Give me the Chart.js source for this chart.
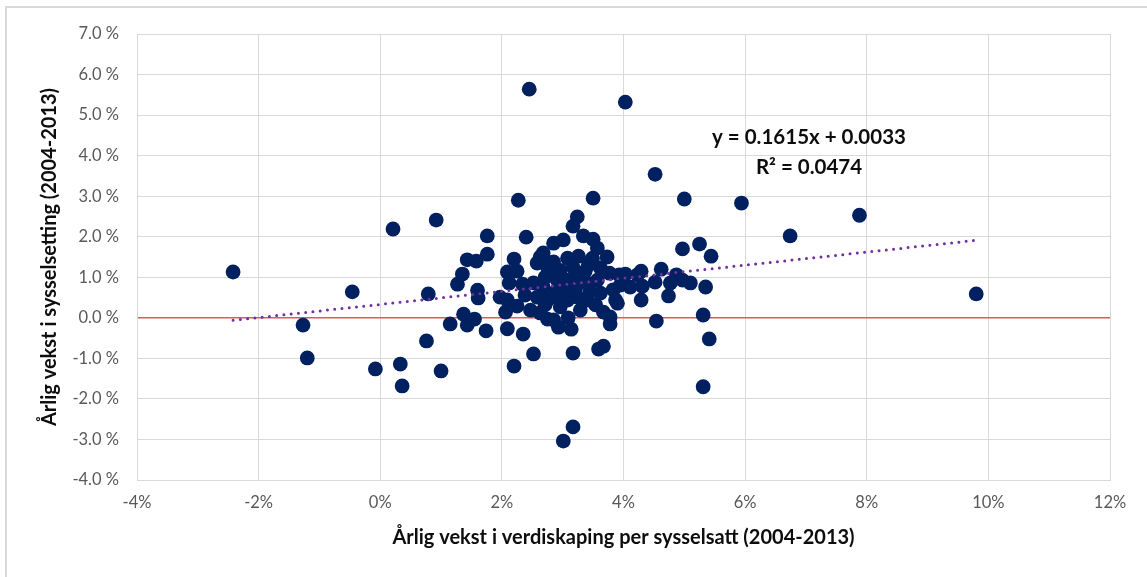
<!DOCTYPE html>
<html>
<head>
<meta charset="utf-8">
<script src="https://cdn.jsdelivr.net/npm/chart.js@4.4.1/dist/chart.umd.min.js"></script>
<style>
  html, body { margin: 0; padding: 0; background: #fff; overflow: hidden; }
  #wrap { position: relative; width: 1147px; height: 577px; }
  #frame { position: absolute; left: 5px; top: 6px; width: 1170px; height: 620px; border: 2px solid #d9d9d9; box-sizing: border-box; }
  #chart { position: absolute; left: 0; top: 0; }
</style>
</head>
<body>
<div id="wrap">
  <div id="frame"></div>
  <canvas id="chart" width="1147" height="577"></canvas>
</div>
<script>
// annual growth in value added per employee (%), one entry per region
const xGrowth = [
  -2.42, -1.27, -1.20, -0.46, -0.08, 0.21, 0.33, 0.36, 0.79, 0.76, 0.92, 1.00,
  2.45, 4.03, 4.52, 3.50, 5.00, 5.94, 6.74, 7.88, 9.80, 2.27,
  1.27, 1.35, 1.43, 1.58, 1.60, 1.61, 1.76, 1.76, 2.20, 2.09, 2.25, 2.12, 2.34, 2.40,
  2.58, 2.68, 2.85, 3.01, 2.75, 2.85, 3.08, 3.26, 3.17, 3.37, 3.17, 3.24, 3.34, 3.50,
  3.49, 3.57, 3.73, 3.77, 3.93, 4.03, 4.29, 4.62, 4.87, 4.97, 5.10, 5.35, 4.31, 4.52,
  4.74, 4.29, 4.97, 5.25, 5.44, 2.52, 2.68, 2.91, 3.08, 3.24, 3.40, 3.57, 3.83, 4.11,
  3.95, 4.23, 1.97, 2.09, 2.25, 2.06, 2.58, 2.75, 2.91, 3.08, 3.24, 3.40, 2.47, 2.63,
  2.75, 3.54, 3.67, 3.78, 3.78, 3.09, 3.14, 2.93, 2.35, 2.09, 1.74, 1.15, 1.43, 1.55,
  1.37, 2.52, 2.20, 3.17, 3.59, 3.67, 3.01, 3.17, 3.90, 4.54, 5.31, 5.41, 5.31,
  2.80, 2.96, 2.71, 3.04, 3.21, 2.88, 2.38, 3.45, 3.62, 3.87, 3.42, 3.62, 2.71, 2.96,
  3.29, 2.85, 4.77, 2.63
];
// annual growth in employment (%), same order as xGrowth
const yGrowth = [
  1.13, -0.18, -0.99, 0.64, -1.26, 2.19, -1.14, -1.68, 0.59, -0.57, 2.41, -1.31,
  5.64, 5.32, 3.54, 2.95, 2.93, 2.83, 2.02, 2.53, 0.59, 2.90,
  0.83, 1.08, 1.43, 1.40, 0.68, 0.49, 2.02, 1.57, 1.45, 1.13, 1.15, 0.86, 0.83, 1.99,
  1.35, 1.60, 1.84, 1.92, 1.25, 1.38, 1.47, 1.52, 1.25, 1.15, 2.26, 2.49, 2.02, 1.94,
  1.47, 1.72, 1.50, 1.10, 1.06, 1.08, 1.15, 1.20, 1.06, 0.93, 0.86, 0.76, 0.78, 0.88,
  0.54, 0.44, 1.70, 1.82, 1.52, 0.86, 0.76, 0.93, 0.93, 1.01, 0.86, 0.93, 0.69, 0.76,
  0.81, 1.06, 0.51, 0.44, 0.29, 0.14, 0.51, 0.44, 0.51, 0.44, 0.51, 0.44, 0.19, 0.12,
  -0.03, 0.32, 0.14, 0.02, -0.15, 0.00, -0.28, -0.23, -0.40, -0.27, -0.32, -0.15, -0.18, -0.03,
  0.09, -0.89, -1.19, -0.87, -0.77, -0.70, -3.04, -2.69, 0.36, -0.08, 0.07, -0.52, -1.70,
  1.12, 1.17, 1.00, 0.69, 0.69, 0.64, 0.56, 0.64, 0.61, 0.44, 1.30, 1.23, 0.32, 0.27,
  0.19, -0.05, 0.86, 1.50
];

// linear trend as reported in the chart (fractions)
const trendSlope = 0.1615;
const trendIntercept = 0.0033;
const equationText = "y = 0.1615x + 0.0033";
const rSquaredText = "R\u00b2 = 0.0474";

const xTitle = "Årlig vekst i verdiskaping per sysselsatt (2004-2013)";
const yTitle = "Årlig vekst i sysselsetting (2004-2013)";

const points = xGrowth.map((x, i) => ({ x: x, y: yGrowth[i] }));
const xMin = Math.min(...xGrowth);
const xMax = Math.max(...xGrowth);
const trendPoints = [xMin, xMax].map(x => ({ x: x, y: trendSlope * x + trendIntercept * 100 }));

const FONT = "Lato, 'Liberation Sans', sans-serif";
Chart.defaults.font.family = FONT;

// equation + R² text, like the Excel trendline label
const equationLabel = {
  id: "equationLabel",
  afterDatasetsDraw(chart) {
    const { ctx, scales } = chart;
    const cx = scales.x.getPixelForValue(7.05);
    ctx.save();
    ctx.font = "bold 20.5px " + FONT;
    ctx.fillStyle = "#0d0d0d";
    ctx.textAlign = "center";
    ctx.textBaseline = "middle";
    ctx.fillText(equationText, cx, scales.y.getPixelForValue(4.45));
    ctx.fillText(rSquaredText, cx, scales.y.getPixelForValue(3.72));
    ctx.restore();
  }
};

new Chart(document.getElementById("chart"), {
  type: "scatter",
  data: {
    datasets: [
      {
        type: "line",
        data: trendPoints,
        borderColor: "#7030a0",
        borderWidth: 3,
        borderDash: [0, 7.3],
        borderCapStyle: "round",
        pointRadius: 0,
        fill: false,
        order: 0
      },
      {
        data: points,
        backgroundColor: "#002060",
        borderWidth: 0,
        pointRadius: 7.4,
        order: 1
      }
    ]
  },
  options: {
    responsive: false,
    animation: false,
    layout: { padding: { top: 34, right: 37, left: 0, bottom: 0 } },
    plugins: { legend: { display: false }, tooltip: { enabled: false } },
    scales: {
      x: {
        type: "linear",
        min: -4,
        max: 12,
        afterFit: (scale) => { scale.height = 97; },
        ticks: {
          stepSize: 2,
          padding: 13,
          color: "#595959",
          font: { size: 16.5 },
          callback: (v) => v + "%"
        },
        grid: { color: "#d9d9d9", lineWidth: 1, drawTicks: false },
        border: { color: "#d9d9d9" },
        title: {
          display: true,
          text: xTitle,
          color: "#0d0d0d",
          font: { size: 20, weight: "bold" },
          padding: { top: 0, bottom: 27 }
        }
      },
      y: {
        min: -4,
        max: 7,
        afterFit: (scale) => { scale.width = 137; },
        ticks: {
          stepSize: 1,
          padding: 18,
          color: "#595959",
          font: { size: 16.5 },
          callback: (v) => v.toFixed(1) + " %"
        },
        grid: {
          drawTicks: false,
          color: (c) => (c.tick && c.tick.value === 0 ? "#e05a5a" : "#d9d9d9"),
          lineWidth: (c) => (c.tick && c.tick.value === 0 ? 1.6 : 1)
        },
        border: { color: "#d9d9d9" },
        title: {
          display: true,
          text: yTitle,
          color: "#0d0d0d",
          font: { size: 20, weight: "bold" },
          padding: { top: 38, bottom: 0 }
        }
      }
    }
  },
  plugins: [equationLabel]
});
</script>
</body>
</html>
